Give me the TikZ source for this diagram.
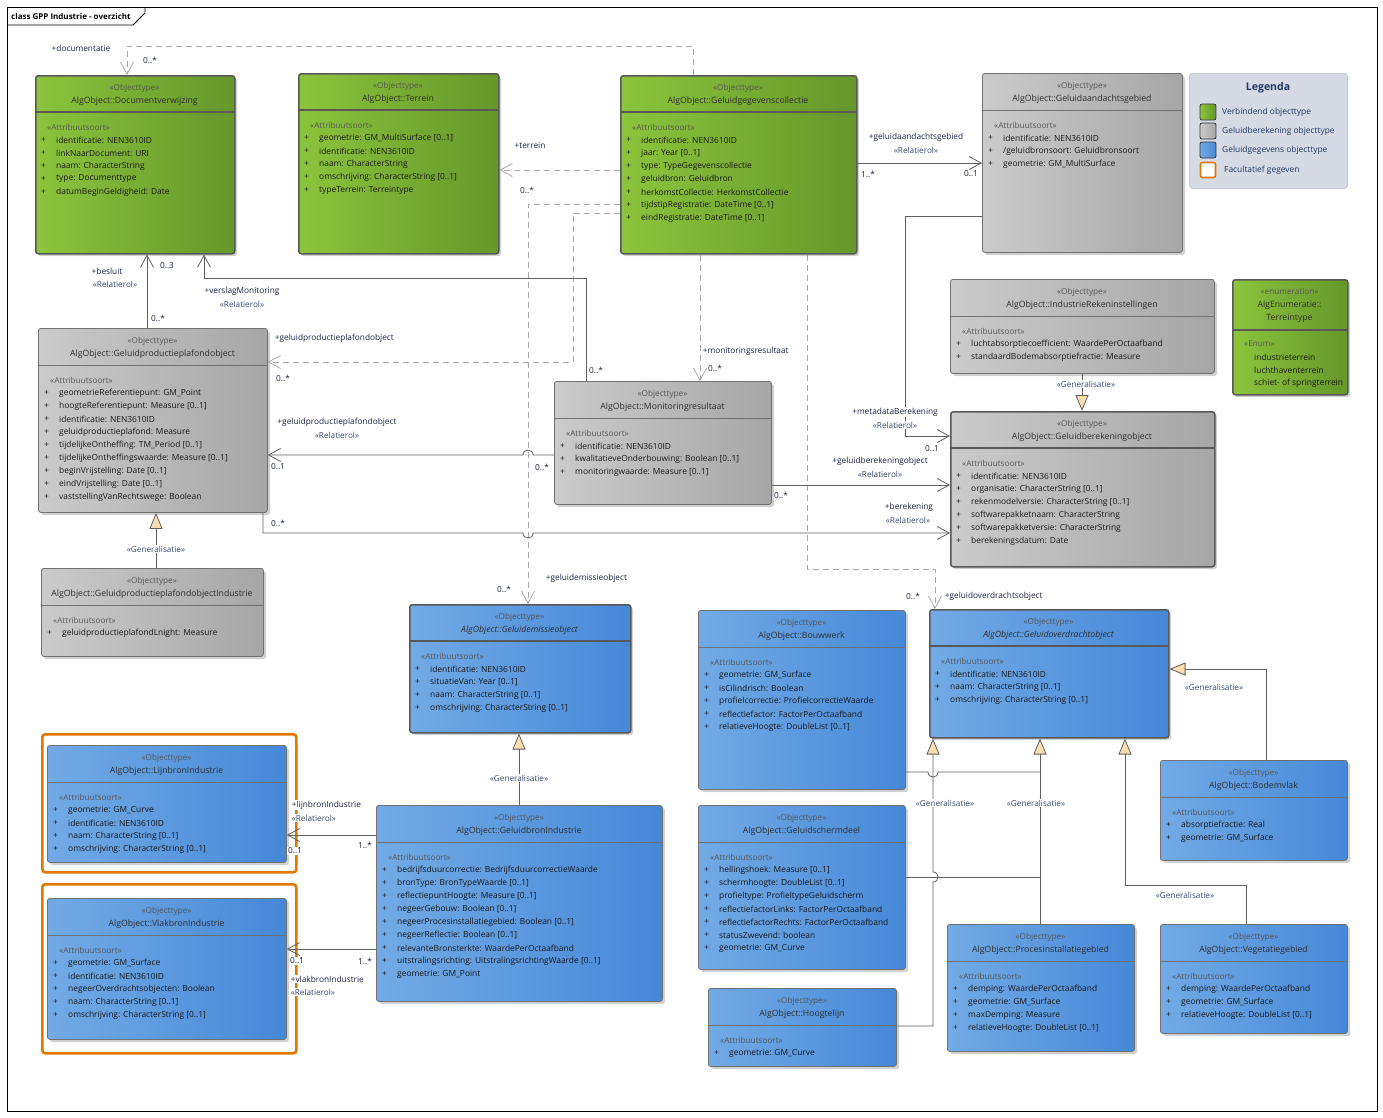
\documentclass[tikz,border=0pt]{standalone}
\usepackage{fontspec}
\setmainfont{Open Sans}
\usetikzlibrary{arrows.meta}
\definecolor{grL}{HTML}{8CC43C}
\definecolor{grR}{HTML}{65972A}
\definecolor{gyL}{HTML}{CBCBCB}
\definecolor{gyR}{HTML}{A6A6A6}
\definecolor{blL}{HTML}{72AAE5}
\definecolor{blR}{HTML}{4688D8}
\definecolor{bord}{HTML}{585858}
\definecolor{lnc}{HTML}{606060}
\definecolor{dashc}{HTML}{A8A8A8}
\definecolor{genf}{HTML}{FBDDB0}
\definecolor{orng}{HTML}{E07800}
\definecolor{legf}{HTML}{D6DAE4}
\definecolor{legb}{HTML}{C4C9D5}
\definecolor{legt}{HTML}{1F3864}
\definecolor{rolec}{HTML}{1E2444}
\definecolor{stc}{HTML}{3C4A70}
\definecolor{shadc}{HTML}{D0D0D0}
\tikzset{
  gfill/.style={left color=grL, right color=grR},
  yfill/.style={left color=gyL, right color=gyR},
  bfill/.style={left color=blL, right color=blR},
  heavy border/.style={draw=bord, line width=1.5pt, rounded corners=2.5pt},
  light border/.style={draw=bord!85, line width=0.8pt, rounded corners=2.5pt},
  heavy sep/.style={draw=bord, line width=2pt},
  light sep/.style={draw=bord!85, line width=0.8pt},
  stereo/.style={font=\fontsize{8.2}{9.5}\selectfont, text=black!66, inner sep=0pt},
  cname/.style={font=\fontsize{8.7}{10}\selectfont, text=black!82, inner sep=0pt},
  attr/.style={font=\fontsize{8.4}{9.5}\selectfont, text=black!90, inner sep=0pt, anchor=west},
  assoc/.style={draw=lnc, line width=0.8pt, -{Straight Barb[length=12pt,width=13pt]}},
  depline/.style={draw=dashc, line width=0.8pt, dash pattern=on 6pt off 4pt, -{Straight Barb[length=12pt,width=13pt]}},
  gen/.style={draw=lnc, line width=0.8pt, -{Triangle[length=16pt,width=13pt,fill=genf]}},
  plainln/.style={draw=lnc, line width=0.8pt},
  rl/.style={font=\fontsize{8.3}{9.5}\selectfont, text=rolec, fill=white, inner sep=0.6pt},
  rs/.style={font=\fontsize{8.2}{9.5}\selectfont, text=stc, fill=white, inner sep=0.6pt},
  legtext/.style={font=\fontsize{8.4}{9.5}\selectfont, text=legt, anchor=west, inner sep=0pt},
}
% name, x, y, w, h, fill, weight, title, attrs
\newcommand\umlbox[9]{%
  \fill[shadc, rounded corners=2.5pt] (#2+3,#3+3) rectangle (#2+#4+3,#3+#5+3);
  \node[#6, #7 border, minimum width=#4pt, minimum height=#5pt, inner sep=0pt, anchor=north west] (#1) at (#2,#3) {};
  \draw[#7 sep] (#2,#3+37) -- (#2+#4,#3+37);
  \node[stereo] at (#2+#4/2,#3+13) {«Objecttype»};
  \node[cname] at (#2+#4/2,#3+26) {#8};
  \node[stereo,anchor=west] at (#2+12,#3+52) {«Attribuutsoort»};
  \foreach \myat [count=\myi] in {#9} {
    \node[attr] at (#2+6,#3+52+13*\myi) {+};
    \node[attr] at (#2+21,#3+52+13*\myi) {\myat};
  }%
}
\begin{document}
\begin{tikzpicture}[x=1pt,y=-1pt]
\useasboundingbox (0,0) rectangle (1383,1117);
\fill[white] (0,0) rectangle (1383,1117);
% frame
\draw[line width=0.8pt] (7,7) rectangle (1377,1111);
\draw[line width=0.8pt] (7,25) -- (133,25) -- (145,13) -- (145,7);
\node[font=\fontsize{8}{9.5}\selectfont\bfseries, anchor=west, inner sep=0pt] (title) at (11,16) {class GPP Industrie - overzicht};

% legend
\node[fill=legf, draw=legb, line width=0.8pt, rounded corners=3pt, minimum width=158pt, minimum height=115pt, anchor=north west, inner sep=0pt] (legend) at (1189,73) {};
\node[font=\fontsize{10.5}{12}\selectfont\bfseries, text=legt, inner sep=0pt] (legtitle) at (1268,88) {Legenda};
\node[gfill, draw=black!80, line width=0.8pt, rounded corners=2pt, minimum size=16pt, inner sep=0pt] (lg1) at (1208,112) {};
\node[yfill, draw=black!80, line width=0.8pt, rounded corners=2pt, minimum size=16pt, inner sep=0pt] (lg2) at (1208,131) {};
\node[bfill, draw=black!80, line width=0.8pt, rounded corners=2pt, minimum size=16pt, inner sep=0pt] (lg3) at (1208,150) {};
\node[fill=white, draw=orng, line width=1.6pt, rounded corners=2pt, minimum size=15pt, inner sep=0pt] (lg4) at (1208,170) {};
\node[legtext] (lt1) at (1222,112) {Verbindend objecttype};
\node[legtext] (lt2) at (1222,131) {Geluidberekening objecttype};
\node[legtext] (lt3) at (1222,150) {Geluidgegevens objecttype};
\node[legtext] (lt4) at (1224,170) {Facultatief gegeven};

% orange optional frames
\node[draw=orng, line width=2.6pt, rounded corners=3pt, fill=white, minimum width=254pt, minimum height=138pt, anchor=north west, inner sep=0pt] (lijnframe) at (41,733) {};
\node[draw=orng, line width=2.6pt, rounded corners=3pt, fill=white, minimum width=254pt, minimum height=169pt, anchor=north west, inner sep=0pt] (vlakframe) at (41,883) {};

% boxes
\umlbox{doc}{35}{75}{199}{178}{gfill}{heavy}{AlgObject::Documentverwijzing}{identificatie: NEN3610ID, linkNaarDocument: URI, naam: CharacterString, type: Documenttype, datumBeginGeldigheid: Date}
\umlbox{ter}{298}{73}{200}{180}{gfill}{heavy}{AlgObject::Terrein}{geometrie: GM\_MultiSurface [0..1], identificatie: NEN3610ID, naam: CharacterString, omschrijving: CharacterString [0..1], typeTerrein: Terreintype}
\umlbox{ggc}{620}{75}{236}{178}{gfill}{heavy}{AlgObject::Geluidgegevenscollectie}{identificatie: NEN3610ID, jaar: Year [0..1], type: TypeGegevenscollectie, geluidbron: Geluidbron, herkomstCollectie: HerkomstCollectie, tijdstipRegistratie: DateTime [0..1], eindRegistratie: DateTime [0..1]}
\umlbox{gag}{982}{73}{200}{179}{yfill}{light}{AlgObject::Geluidaandachtsgebied}{identificatie: NEN3610ID, /geluidbronsoort: Geluidbronsoort, geometrie: GM\_MultiSurface}
\umlbox{gpo}{38}{328}{229}{184}{yfill}{light}{AlgObject::Geluidproductieplafondobject}{geometrieReferentiepunt: GM\_Point, hoogteReferentiepunt: Measure [0..1], identificatie: NEN3610ID, geluidproductieplafond: Measure, tijdelijkeOntheffing: TM\_Period [0..1], tijdelijkeOntheffingswaarde: Measure [0..1], beginVrijstelling: Date [0..1], eindVrijstelling: Date [0..1], vaststellingVanRechtswege: Boolean}
\umlbox{mon}{554}{381}{217}{123}{yfill}{light}{AlgObject::Monitoringresultaat}{identificatie: NEN3610ID, kwalitatieveOnderbouwing: Boolean [0..1], monitoringwaarde: Measure [0..1]}
\umlbox{iri}{950}{279}{264}{94}{yfill}{light}{AlgObject::IndustrieRekeninstellingen}{luchtabsorptiecoefficient: WaardePerOctaafband, standaardBodemabsorptiefractie: Measure}
\umlbox{gbo}{950}{411}{264}{155}{yfill}{heavy}{AlgObject::Geluidberekeningobject}{identificatie: NEN3610ID, organisatie: CharacterString [0..1], rekenmodelversie: CharacterString [0..1], softwarepakketnaam: CharacterString, softwarepakketversie: CharacterString, berekeningsdatum: Date}
\umlbox{gpoi}{41}{568}{222}{88}{yfill}{light}{AlgObject::GeluidproductieplafondobjectIndustrie}{geluidproductieplafondLnight: Measure}
\umlbox{emis}{409}{604}{221}{128}{bfill}{heavy}{\itshape AlgObject::Geluidemissieobject}{identificatie: NEN3610ID, situatieVan: Year [0..1], naam: CharacterString [0..1], omschrijving: CharacterString [0..1]}
\umlbox{bouw}{698}{610}{207}{179}{bfill}{light}{AlgObject::Bouwwerk}{geometrie: GM\_Surface, isCilindrisch: Boolean, profielcorrectie: ProfielcorrectieWaarde, reflectiefactor: FactorPerOctaafband, relatieveHoogte: DoubleList [0..1]}
\umlbox{gov}{929}{609}{239}{128}{bfill}{heavy}{\itshape AlgObject::Geluidoverdrachtobject}{identificatie: NEN3610ID, naam: CharacterString [0..1], omschrijving: CharacterString [0..1]}
\umlbox{bod}{1160}{760}{187}{100}{bfill}{light}{AlgObject::Bodemvlak}{absorptiefractie: Real, geometrie: GM\_Surface}
\umlbox{lijn}{47}{745}{239}{117}{bfill}{light}{AlgObject::LijnbronIndustrie}{geometrie: GM\_Curve, identificatie: NEN3610ID, naam: CharacterString [0..1], omschrijving: CharacterString [0..1]}
\umlbox{gbi}{376}{805}{286}{196}{bfill}{light}{AlgObject::GeluidbronIndustrie}{bedrijfsduurcorrectie: BedrijfsduurcorrectieWaarde, bronType: BronTypeWaarde [0..1], reflectiepuntHoogte: Measure [0..1], negeerGebouw: Boolean [0..1], negeerProcesinstallatiegebied: Boolean [0..1], negeerReflectie: Boolean [0..1], relevanteBronsterkte: WaardePerOctaafband, uitstralingsrichting: UitstralingsrichtingWaarde [0..1], geometrie: GM\_Point}
\umlbox{vlak}{47}{898}{239}{141}{bfill}{light}{AlgObject::VlakbronIndustrie}{geometrie: GM\_Surface, identificatie: NEN3610ID, negeerOverdrachtsobjecten: Boolean, naam: CharacterString [0..1], omschrijving: CharacterString [0..1]}
\umlbox{scherm}{698}{805}{207}{164}{bfill}{light}{AlgObject::Geluidschermdeel}{hellingshoek: Measure [0..1], schermhoogte: DoubleList [0..1], profieltype: ProfieltypeGeluidscherm, reflectiefactorLinks: FactorPerOctaafband, reflectiefactorRechts: FactorPerOctaafband, statusZwevend: boolean, geometrie: GM\_Curve}
\umlbox{hoog}{708}{988}{188}{78}{bfill}{light}{AlgObject::Hoogtelijn}{geometrie: GM\_Curve}
\umlbox{proc}{947}{924}{187}{127}{bfill}{light}{AlgObject::Procesinstallatiegebied}{demping: WaardePerOctaafband, geometrie: GM\_Surface, maxDemping: Measure, relatieveHoogte: DoubleList [0..1]}
\umlbox{veg}{1160}{924}{187}{109}{bfill}{light}{AlgObject::Vegetatiegebied}{demping: WaardePerOctaafband, geometrie: GM\_Surface, relatieveHoogte: DoubleList [0..1]}

% enumeration
\fill[shadc, rounded corners=2.5pt] (1235,282) rectangle (1350,397);
\node[gfill, heavy border, minimum width=115pt, minimum height=115pt, inner sep=0pt, anchor=north west] (enum) at (1232,279) {};
\draw[heavy sep] (1232,330) -- (1347,330);
\node[stereo] (enumst) at (1289.5,292) {«enumeration»};
\node[cname] (enumn1) at (1289.5,305) {AlgEnumeratie::};
\node[cname] (enumn2) at (1289.5,318) {Terreintype};
\node[stereo, anchor=west] (enumlab) at (1244,344) {«Enum»};
\node[attr] (enum1) at (1254,357) {industrieterrein};
\node[attr] (enum2) at (1254,370) {luchthaventerrein};
\node[attr] (enum3) at (1254,383) {schiet- of springterrein};

% ---------- dashed navigations from Geluidgegevenscollectie
\draw[depline] (ggc.north -| 693,0) -- (693,46) -- (127,46) -- (doc.north -| 127,0);
\draw[depline] (ggc.west |- 0,170) -- (ter.east |- 0,170);
\draw[depline] (ggc.west |- 0,204) -- (528,204) -- (emis.north -| 528,0);
\draw[depline] (ggc.west |- 0,213) -- (573,213) -- (573,362) -- (gpo.east |- 0,362);
\draw[depline] (ggc.south -| 700,0) -- (mon.north -| 700,0);
\draw[depline] (ggc.south -| 807,0) -- (807,569) -- (935,569) -- (gov.north -| 935,0);

% ---------- associations
\draw[assoc] (ggc.east |- 0,163) -- (gag.west |- 0,163);
\draw[assoc] (gpo.north -| 147,0) -- (doc.south -| 147,0);
\draw[assoc] (mon.north -| 586,0) -- (586,278) -- (204,278) -- (doc.south -| 204,0);
\draw[assoc] (mon.west |- 0,455) -- (533,455) .. controls (533,448.3) and (523,448.3) .. (523,455) -- (gpo.east |- 0,455);
\draw[assoc] (gag.west |- 0,216) -- (905,216) -- (905,436) -- (gbo.west |- 0,436);
\draw[assoc] (mon.east |- 0,485) -- (gbo.west |- 0,485);
\draw[assoc] (gpo.south -| 263,0) -- (263,533) -- (523,533) .. controls (523,539.7) and (533,539.7) .. (533,533) -- (gbo.west |- 0,533);
\draw[assoc] (gbi.west |- 0,835) -- (lijn.east |- 0,835);
\draw[assoc] (gbi.west |- 0,949) -- (vlak.east |- 0,949);

% ---------- generalisations
\draw[gen] (gpoi.north -| 156,0) -- (gpo.south -| 156,0);
\draw[gen] (iri.south -| 1082,0) -- (gbo.north -| 1082,0);
\draw[gen] (gbi.north -| 519,0) -- (emis.south -| 519,0);
\draw[gen] (hoog.east |- 0,1026) -- (933,1026) -- (933,882) .. controls (939.7,882) and (939.7,872) .. (933,872) -- (gov.south -| 933,0);
\draw[plainln] (bouw.east |- 0,772) -- (928,772) .. controls (928,778.7) and (938,778.7) .. (938,772) -- (1040,772);
\draw[plainln] (scherm.east |- 0,877) -- (1040,877);
\draw[gen] (proc.north -| 1040,0) -- (gov.south -| 1040,0);
\draw[gen] (veg.north -| 1246,0) -- (1246,885) -- (1125,885) -- (gov.south -| 1125,0);
\draw[gen] (bod.north -| 1266,0) -- (1266,669) -- (gov.east |- 0,669);

% ---------- labels
\node[rl] at (81,48) {+documentatie};
\node[rl] at (150,60) {0..*};
\node[rl] at (530,145) {+terrein};
\node[rl] at (527,190) {0..*};
\node[rl] at (916,137) {+geluidaandachtsgebied};
\node[rs] at (916,150) {«Relatierol»};
\node[rl] at (868,174) {1..*};
\node[rl] at (971,174) {0..1};
\node[rl] at (107,271) {+besluit};
\node[rs] at (115,284) {«Relatierol»};
\node[rl] at (167,266) {0..3};
\node[rl] at (158,318) {0..*};
\node[rl] at (242,291) {+verslagMonitoring};
\node[rs] at (242,304) {«Relatierol»};
\node[rl] at (596,370) {0..*};
\node[rl, anchor=west] at (274,338) {+geluidproductieplafondobject};
\node[rl] at (283,378) {0..*};
\node[rl, anchor=west] at (702,351) {+monitoringsresultaat};
\node[rl] at (715,368) {0..*};
\node[rl] at (337,422) {+geluidproductieplafondobject};
\node[rs] at (337,435) {«Relatierol»};
\node[rl] at (278,467) {0..1};
\node[rl] at (542,467) {0..*};
\node[rl] at (895,412) {+metadataBerekening};
\node[rs] at (895,425) {«Relatierol»};
\node[rl] at (932,449) {0..1};
\node[rl] at (880,461) {+geluidberekeningobject};
\node[rs] at (880,474) {«Relatierol»};
\node[rl] at (781,495) {0..*};
\node[rl] at (909,507) {+berekening};
\node[rs] at (908,520) {«Relatierol»};
\node[rl] at (278,523) {0..*};
\node[rs] at (156,549) {«Generalisatie»};
\node[rs] at (1086,384) {«Generalisatie»};
\node[rl, anchor=west] at (545,578) {+geluidemissieobject};
\node[rl] at (504,589) {0..*};
\node[rl] at (913,596) {0..*};
\node[rl, anchor=west] at (944,596) {+geluidoverdrachtsobject};
\node[rs] at (519,778) {«Generalisatie»};
\node[rl, anchor=west] at (291,805) {+lijnbronIndustrie};
\node[rs, anchor=west] at (291,818) {«Relatierol»};
\node[rl] at (295,851) {0..1};
\node[rl] at (365,845) {1..*};
\node[rl] at (297,961) {0..1};
\node[rl] at (365,961) {1..*};
\node[rl, anchor=west] at (290,979) {+vlakbronIndustrie};
\node[rs, anchor=west] at (290,992) {«Relatierol»};
\node[rs] at (945,803) {«Generalisatie»};
\node[rs] at (1036,803) {«Generalisatie»};
\node[rs] at (1214,687) {«Generalisatie»};
\node[rs] at (1185,895) {«Generalisatie»};
\end{tikzpicture}
\end{document}
